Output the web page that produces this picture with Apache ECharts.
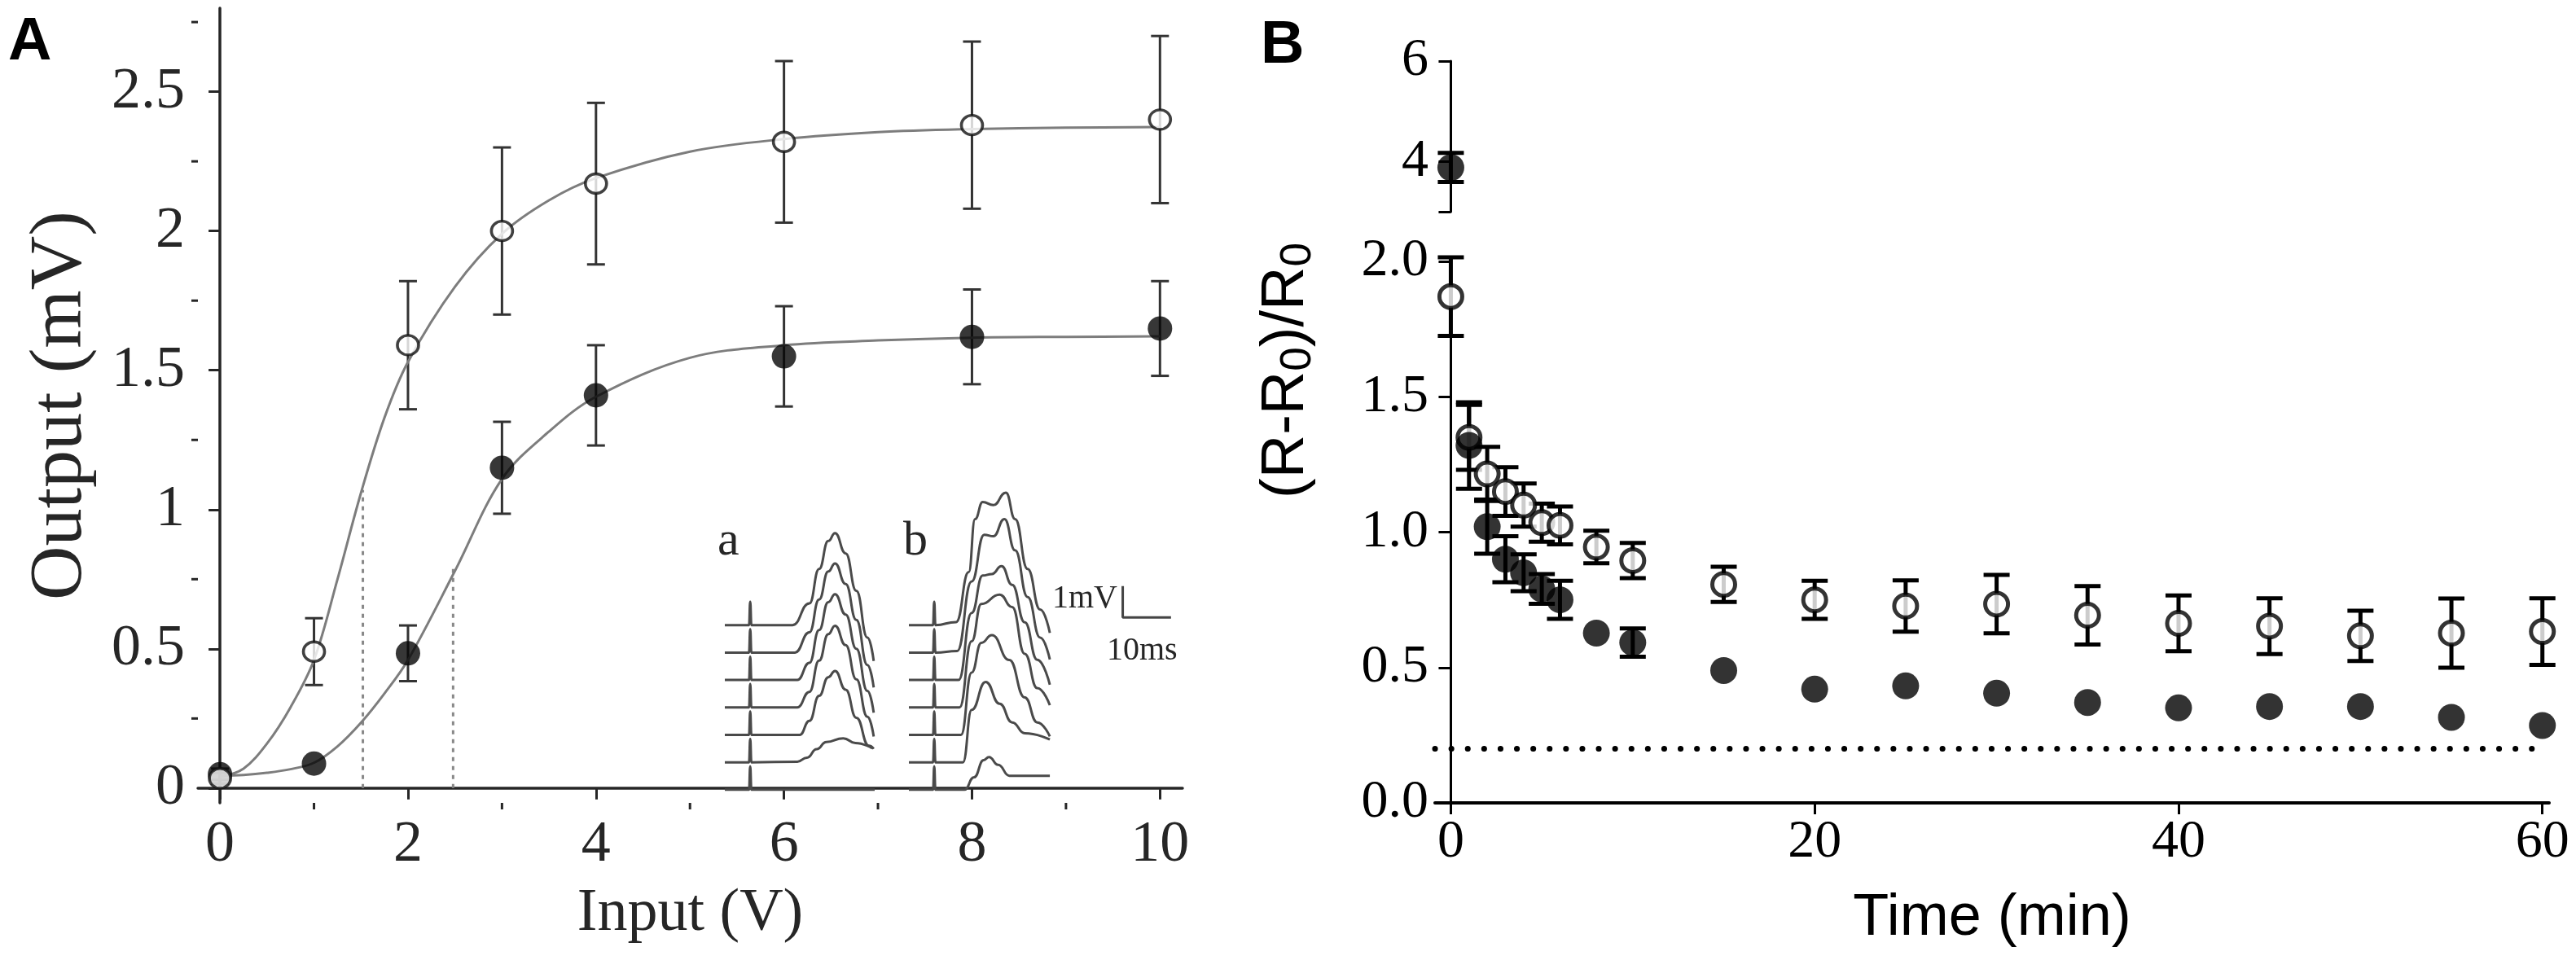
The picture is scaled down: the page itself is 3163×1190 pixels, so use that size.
<!DOCTYPE html>
<html>
<head>
<meta charset="utf-8">
<script src="https://cdn.jsdelivr.net/npm/echarts@6/dist/echarts.min.js"></script>
<style>
  html, body { margin: 0; padding: 0; background: #fff; }
  #chart { width: 3163px; height: 1190px; }
</style>
</head>
<body>
<div id="chart"></div>
<script>
// ---- Panel A: input/output curve ----
const inputV = [0, 1, 2, 3, 4, 6, 8, 10];
const openOut = [0.035, 0.49, 1.59, 2.0, 2.17, 2.32, 2.38, 2.40];
const openOutErr = [0.02, 0.12, 0.23, 0.30, 0.29, 0.29, 0.30, 0.30];
const filledOut = [0.05, 0.088, 0.484, 1.15, 1.41, 1.55, 1.62, 1.65];
const filledOutErr = [0.02, 0, 0.10, 0.165, 0.18, 0.18, 0.17, 0.17];

// fitted curves
const curveX = [0, 0.25, 0.5, 0.75, 1, 1.25, 1.5, 1.75, 2, 2.5, 3, 3.5, 4, 5, 6, 7, 8, 9, 10];
const openCurve = [0.04, 0.07, 0.16, 0.29, 0.46, 0.75, 1.06, 1.33, 1.53, 1.8, 1.99, 2.11, 2.19, 2.285, 2.33, 2.355, 2.366, 2.371, 2.373];
const filledCurve = [0.044, 0.047, 0.055, 0.068, 0.091, 0.15, 0.235, 0.34, 0.46, 0.78, 1.11, 1.28, 1.405, 1.545, 1.59, 1.607, 1.617, 1.62, 1.622];
const halfOpen = [1.52, 1.07];
const halfFilled = [2.48, 0.79];

const xTicksA = [0, 2, 4, 6, 8, 10];
const xMinorA = [1, 3, 5, 7, 9];
const yTicksA = [0, 0.5, 1, 1.5, 2, 2.5];
const yMinorA = [0.25, 0.75, 1.25, 1.75, 2.25, 2.75];

// inset traces (ms, mV relative to each trace's baseline), bottom to top
const tracesA = [
  [[0,0],[5,0],[5.25,0.75],[5.5,0],[31,0]],
  [[0,0],[5,0],[5.25,0.75],[5.5,0],[15,0.02],[17,0.15],[19,0.42],[21,0.65],[24.5,0.77],[27,0.62],[30.5,0.45]],
  [[0,0],[5,0],[5.25,0.75],[5.5,0],[15.5,0],[17.5,0.45],[19.5,1.25],[21.4,1.85],[22.8,2.05],[25,1.45],[27.2,0.55],[29.8,-0.35],[30.8,-0.45]],
  [[0,0],[5,0],[5.25,0.75],[5.5,0],[15,0],[17.5,0.5],[19.5,1.5],[21.4,2.35],[22.8,2.62],[25,2.0],[27.2,0.9],[29.5,-0.3],[30.8,-0.93]],
  [[0,0],[5,0],[5.25,0.75],[5.5,0],[15,0],[17.5,0.55],[19.5,1.6],[21.4,2.5],[22.8,2.75],[25,2.1],[27.2,1.0],[29.5,-0.35],[30.8,-1.05]],
  [[0,0],[5,0],[5.25,0.75],[5.5,0],[14.5,0],[17.5,0.65],[19.5,1.7],[21.4,2.6],[22.8,2.86],[25,2.2],[27.2,1.05],[29.5,-0.4],[30.8,-1.12]],
  [[0,0],[5,0],[5.25,0.75],[5.5,0],[14,0],[17.5,0.7],[19.5,1.8],[21.4,2.7],[22.8,2.95],[25,2.3],[27.2,1.1],[29.5,-0.4],[30.8,-1.15]]
];
const tracesB = [
  [[0,0],[5,0],[5.25,0.75],[5.5,0],[11.5,0],[13.5,0.4],[15.5,0.95],[16.6,1.05],[18.5,0.8],[20.8,0.45],[29.2,0.45]],
  [[0,0],[5,0],[5.25,0.75],[5.5,0],[11.2,0],[13,1.68],[15.9,2.58],[18.8,1.88],[21.4,1.28],[24,0.93],[29.2,0.73]],
  [[0,0],[5,0],[5.25,0.75],[5.5,0],[10.8,0],[13,2.0],[15,2.95],[17.2,3.2],[20.8,2.4],[24,1.2],[26.6,0.4],[29.2,-0.05]],
  [[0,0],[5,0],[5.25,0.75],[5.5,0],[10.5,0],[13,2.12],[15,3.32],[18.8,3.62],[21.4,3.22],[24,1.72],[26.6,0.62],[29.2,0.07]],
  [[0,0],[5,0],[5.25,0.75],[5.5,0],[10.3,0],[13,2.15],[15.3,3.35],[17.2,3.4],[19.2,3.65],[21.4,3.05],[24,1.85],[26.6,0.65],[29.2,-0.15]],
  [[0,0],[5,0],[5.25,0.75],[5.5,0],[10,0.05],[13,2.28],[15.6,3.78],[17.5,3.73],[19.8,4.28],[22,3.28],[24.6,1.78],[27.2,0.48],[29.2,-0.22]],
  [[0,0],[5,0],[5.25,0.75],[5.5,0],[9.8,0.1],[12.4,1.7],[13.7,3.4],[15.3,3.95],[17.5,3.85],[20.1,4.25],[22,3.4],[24.6,1.8],[27.2,0.5],[29.2,-0.25]]
];
const scaleBarMs = 10;
const scaleBarMv = 1;

// ---- Panel B: time course ----
const timeMin = [0, 1, 2, 3, 4, 5, 6, 8, 10, 15, 20, 25, 30, 35, 40, 45, 50, 55, 60];
const openB = [1.87, 1.35, 1.215, 1.15, 1.10, 1.035, 1.025, 0.945, 0.895, 0.807, 0.75, 0.727, 0.734, 0.693, 0.663, 0.653, 0.617, 0.627, 0.633];
const openBErr = [0.145, 0.12, 0.10, 0.09, 0.08, 0.07, 0.07, 0.06, 0.065, 0.065, 0.07, 0.095, 0.108, 0.108, 0.103, 0.103, 0.093, 0.128, 0.123];
const filledB = [3.88, 1.32, 1.02, 0.90, 0.85, 0.79, 0.75, 0.627, 0.592, 0.489, 0.42, 0.432, 0.405, 0.371, 0.351, 0.356, 0.356, 0.316, 0.286];
const filledBErr = [0.29, 0.16, 0.10, 0.085, 0.068, 0.055, 0.07, 0, 0.052, 0, 0, 0, 0, 0, 0, 0, 0, 0, 0];
const baselineLevel = 0.2;
const yTicksBLow = [0, 0.5, 1, 1.5, 2];
const yTicksBHigh = [4, 6];
const xTicksB = [0, 20, 40, 60];
const axisBreak = 2.1;

const SERIF = 'Liberation Serif';
const SANS = 'Liberation Sans';
const INK_A = '#262626';

const chart = echarts.init(document.getElementById('chart'), null, { renderer: 'canvas' });

function errorBars(xi, yi, data, color, width, cap) {
  return {
    type: 'custom', xAxisIndex: xi, yAxisIndex: yi, silent: true, z: 2,
    data: data,
    renderItem: function (params, api) {
      const x = api.value(0), y = api.value(1), e = api.value(2);
      if (!e) return null;
      const hi = api.coord([x, y + e]);
      const lo = api.coord([x, y - e]);
      const style = { stroke: color, lineWidth: width, fill: null };
      return {
        type: 'group', children: [
          { type: 'line', shape: { x1: hi[0], y1: hi[1], x2: lo[0], y2: lo[1] }, style: style },
          { type: 'line', shape: { x1: hi[0] - cap, y1: hi[1], x2: hi[0] + cap, y2: hi[1] }, style: style },
          { type: 'line', shape: { x1: lo[0] - cap, y1: lo[1], x2: lo[0] + cap, y2: lo[1] }, style: style }
        ]
      };
    }
  };
}

function minorTicks(xi, yi, values, dir, anchor, len, color, width) {
  return {
    type: 'custom', xAxisIndex: xi, yAxisIndex: yi, silent: true, clip: false,
    data: values.map(v => [v]),
    renderItem: function (params, api) {
      const v = api.value(0);
      const p = dir === 'x' ? api.coord([v, anchor]) : api.coord([anchor, v]);
      const shape = dir === 'x'
        ? { x1: p[0], y1: p[1], x2: p[0], y2: p[1] + len }
        : { x1: p[0], y1: p[1], x2: p[0] - len, y2: p[1] };
      return { type: 'line', shape: shape, style: { stroke: color, lineWidth: width } };
    }
  };
}

const xMinA = -0.235, xMaxA = 10.24, yMinA = -0.053, yMaxA = 2.80;
const tMinB = -0.87, tMaxB = 60.37;

const traceGap = 0.88;
function traceSeries(xi, yi, traces) {
  return traces.map((tr, k) => ({
    type: 'line', xAxisIndex: xi, yAxisIndex: yi, silent: true,
    data: tr.map(p => [p[0], p[1] + k * traceGap]),
    showSymbol: false, smooth: 0.5, smoothMonotone: 'x',
    lineStyle: { color: '#4a4a4a', width: 3 }
  }));
}

const pick = (vals, errs, hi) => timeMin
  .map((t, i) => [t, vals[i], errs[i]])
  .filter(d => hi ? d[1] > axisBreak : d[1] <= axisBreak);

// scale bar anchor (inside inset b coordinates)
const barT = 44.3, barV = 6 * traceGap + 0.25;

const option = {
  animation: false,
  textStyle: { fontFamily: SERIF },
  grid: [
    { left: 243, top: 10, width: 1209, height: 976, outerBoundsMode: 'none' },
    { left: 890, top: 587, width: 184, height: 402, outerBoundsMode: 'none' },
    { left: 1116, top: 587, width: 326, height: 402, outerBoundsMode: 'none' },
    { left: 1762, top: 75, width: 1368, height: 185, outerBoundsMode: 'none' },
    { left: 1762, top: 321, width: 1368, height: 665, outerBoundsMode: 'none' }
  ],
  xAxis: [
    {
      gridIndex: 0, type: 'value', min: xMinA, max: xMaxA,
      name: 'Input (V)', nameLocation: 'middle', nameGap: 100,
      nameTextStyle: { fontFamily: SERIF, fontSize: 74, color: INK_A },
      axisLine: { lineStyle: { color: INK_A, width: 3.5 } },
      axisTick: { customValues: xTicksA, length: 14, lineStyle: { color: INK_A, width: 3 } },
      axisLabel: { customValues: xTicksA, fontFamily: SERIF, fontSize: 72, color: INK_A, margin: 16 },
      splitLine: { show: false }
    },
    { gridIndex: 1, type: 'value', min: 0, max: 31, show: false },
    { gridIndex: 2, type: 'value', min: 0, max: 55, show: false },
    { gridIndex: 3, type: 'value', min: tMinB, max: tMaxB, show: false },
    {
      gridIndex: 4, type: 'value', min: tMinB, max: tMaxB,
      name: 'Time (min)', nameLocation: 'middle', nameGap: 106,
      nameTextStyle: { fontFamily: SANS, fontSize: 72, color: '#000' },
      axisLine: { lineStyle: { color: '#000', width: 4 } },
      axisTick: { customValues: xTicksB, length: 14, lineStyle: { color: '#000', width: 3 } },
      axisLabel: { customValues: xTicksB, fontFamily: SERIF, fontSize: 66, color: '#000', margin: 16 },
      splitLine: { show: false }
    }
  ],
  yAxis: [
    {
      gridIndex: 0, type: 'value', min: yMinA, max: yMaxA,
      name: 'Output (mV)', nameLocation: 'middle', nameGap: 122,
      nameTextStyle: { fontFamily: SERIF, fontSize: 92, color: INK_A },
      axisLine: { lineStyle: { color: INK_A, width: 3.5 } },
      axisTick: { customValues: yTicksA, length: 14, lineStyle: { color: INK_A, width: 3 } },
      axisLabel: { customValues: yTicksA, fontFamily: SERIF, fontSize: 72, color: INK_A, margin: 16 },
      splitLine: { show: false }
    },
    { gridIndex: 1, type: 'value', min: -0.5, max: 10, show: false },
    { gridIndex: 2, type: 'value', min: -0.5, max: 10, show: false },
    {
      gridIndex: 3, type: 'value', min: 3, max: 6,
      axisLine: { show: true, lineStyle: { color: '#000', width: 3 } },
      axisTick: { customValues: [3, 4, 6], length: 15, lineStyle: { color: '#000', width: 3 } },
      axisLabel: { customValues: yTicksBHigh, fontFamily: SERIF, fontSize: 66, color: '#000', margin: 8 },
      splitLine: { show: false }
    },
    {
      gridIndex: 4, type: 'value', min: 0, max: 2,
      axisLine: { show: true, lineStyle: { color: '#000', width: 3 } },
      axisTick: { customValues: yTicksBLow, length: 15, lineStyle: { color: '#000', width: 3 } },
      axisLabel: { customValues: yTicksBLow, fontFamily: SERIF, fontSize: 66, color: '#000', margin: 8,
        formatter: v => v.toFixed(1) },
      splitLine: { show: false }
    }
  ],
  graphic: [
    { type: 'text', left: 10, top: 16, style: { text: 'A', font: 'bold 74px "Liberation Sans"', fill: '#000' } },
    { type: 'text', left: 1548, top: 20, style: { text: 'B', font: 'bold 74px "Liberation Sans"', fill: '#000' } },
    { type: 'text', x: 881, y: 695, style: { text: 'a', font: '60px "Liberation Serif"', fill: INK_A, verticalAlign: 'bottom' } },
    { type: 'text', x: 1109, y: 695, style: { text: 'b', font: '60px "Liberation Serif"', fill: INK_A, verticalAlign: 'bottom' } },
    { type: 'text', x: 1372, y: 755, style: { text: '1mV', font: '40px "Liberation Serif"', fill: INK_A, align: 'right', verticalAlign: 'bottom' } },
    { type: 'text', x: 1359, y: 819, style: { text: '10ms', font: '40px "Liberation Serif"', fill: INK_A, verticalAlign: 'bottom' } },
    {
      type: 'text', x: 1580, y: 455, rotation: Math.PI / 2,
      style: {
        text: '(R-R{s|0})/R{s|0}', fontFamily: SANS, fontSize: 74, fill: '#000',
        align: 'center', verticalAlign: 'middle', lineHeight: 82,
        rich: { s: { fontFamily: SANS, fontSize: 53, lineHeight: 54, padding: [28, 0, 0, 0], verticalAlign: 'bottom' } }
      }
    }
  ],
  series: [
    // panel A
    minorTicks(0, 0, xMinorA, 'x', yMinA, 8, INK_A, 3),
    minorTicks(0, 0, yMinorA, 'y', xMinA, 8, INK_A, 3),
    {
      type: 'line', xAxisIndex: 0, yAxisIndex: 0, silent: true, showSymbol: false,
      data: [[halfOpen[0], 0], halfOpen], lineStyle: { color: '#888', width: 3, type: [5, 6] }
    },
    {
      type: 'line', xAxisIndex: 0, yAxisIndex: 0, silent: true, showSymbol: false,
      data: [[halfFilled[0], 0], halfFilled], lineStyle: { color: '#888', width: 3, type: [5, 6] }
    },
    {
      type: 'line', xAxisIndex: 0, yAxisIndex: 0, silent: true, showSymbol: false, smooth: 0.35,
      data: curveX.map((x, i) => [x, openCurve[i]]), lineStyle: { color: '#7d7d7d', width: 3 }
    },
    {
      type: 'line', xAxisIndex: 0, yAxisIndex: 0, silent: true, showSymbol: false, smooth: 0.35,
      data: curveX.map((x, i) => [x, filledCurve[i]]), lineStyle: { color: '#7d7d7d', width: 3 }
    },
    errorBars(0, 0, inputV.map((x, i) => [x, openOut[i], openOutErr[i]]), '#333', 3, 11),
    errorBars(0, 0, inputV.map((x, i) => [x, filledOut[i], filledOutErr[i]]), '#333', 3, 11),
    {
      type: 'scatter', xAxisIndex: 0, yAxisIndex: 0, symbol: 'circle', symbolSize: 30, z: 3,
      data: inputV.map((x, i) => [x, filledOut[i]]), itemStyle: { color: '#050505' }
    },
    {
      type: 'scatter', xAxisIndex: 0, yAxisIndex: 0, symbol: 'circle', symbolSize: [26, 24], z: 4,
      data: inputV.map((x, i) => [x, openOut[i]]),
      itemStyle: { color: '#fff', borderColor: '#111', borderWidth: 3.5 }
    },
    // inset traces
    ...traceSeries(1, 1, tracesA),
    ...traceSeries(2, 2, tracesB),
    {
      type: 'line', xAxisIndex: 2, yAxisIndex: 2, silent: true, showSymbol: false,
      data: [[barT + scaleBarMs, barV], [barT, barV], [barT, barV + scaleBarMv]],
      lineStyle: { color: '#444', width: 3 }
    },
    // panel B
    {
      type: 'line', xAxisIndex: 4, yAxisIndex: 4, silent: true, showSymbol: false,
      data: [[tMinB, baselineLevel], [60, baselineLevel]],
      lineStyle: { color: '#000', width: 7, type: [0.1, 20], cap: 'round' }
    },
    errorBars(3, 3, pick(openB, openBErr, true), '#000', 5, 16),
    errorBars(3, 3, pick(filledB, filledBErr, true), '#000', 5, 16),
    errorBars(4, 4, pick(openB, openBErr, false), '#000', 5, 16),
    errorBars(4, 4, pick(filledB, filledBErr, false), '#000', 5, 16),
    {
      type: 'scatter', xAxisIndex: 3, yAxisIndex: 3, symbol: 'circle', symbolSize: 28, z: 3,
      data: pick(openB, openBErr, true).map(d => [d[0], d[1]]),
      itemStyle: { color: '#fff', borderColor: '#000', borderWidth: 5 }
    },
    {
      type: 'scatter', xAxisIndex: 4, yAxisIndex: 4, symbol: 'circle', symbolSize: 28, z: 3,
      data: pick(openB, openBErr, false).map(d => [d[0], d[1]]),
      itemStyle: { color: '#fff', borderColor: '#000', borderWidth: 5 }
    },
    {
      type: 'scatter', xAxisIndex: 3, yAxisIndex: 3, symbol: 'circle', symbolSize: 33, z: 4,
      data: pick(filledB, filledBErr, true).map(d => [d[0], d[1]]), itemStyle: { color: '#000' }
    },
    {
      type: 'scatter', xAxisIndex: 4, yAxisIndex: 4, symbol: 'circle', symbolSize: 33, z: 4,
      data: pick(filledB, filledBErr, false).map(d => [d[0], d[1]]), itemStyle: { color: '#000' }
    }
  ]
};

chart.setOption(option);
window.addEventListener('resize', () => chart.resize());
</script>
</body>
</html>
